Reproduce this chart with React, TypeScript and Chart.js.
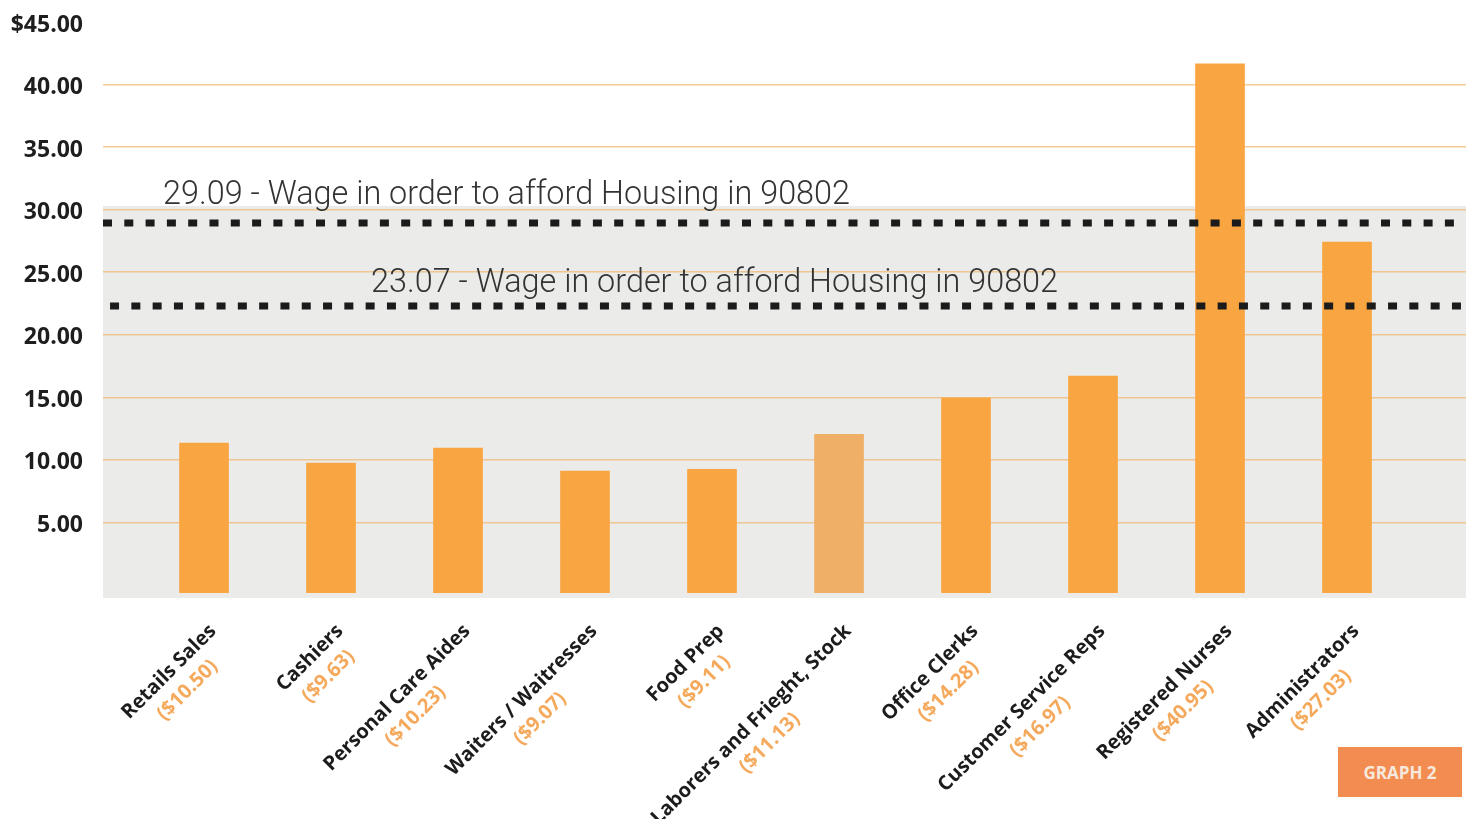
import React, { useEffect, useRef } from "react";
import { Chart, registerables } from "chart.js";

Chart.register(...registerables);

// ---- data ----
const categories = [
  "Retails Sales",
  "Cashiers",
  "Personal Care Aides",
  "Waiters / Waitresses",
  "Food Prep",
  "Laborers and Frieght, Stock",
  "Office Clerks",
  "Customer Service Reps",
  "Registered Nurses",
  "Administrators",
];
const wageLabels = [
  "($10.50)",
  "($9.63)",
  "($10.23)",
  "($9.07)",
  "($9.11)",
  "($11.13)",
  "($14.28)",
  "($16.97)",
  "($40.95)",
  "($27.03)",
];
const barValues = [11.35, 9.75, 10.95, 9.1, 9.25, 12.05, 14.95, 16.7, 41.65, 27.4];
const barColors = [
  "#f9a542", "#f9a542", "#f9a542", "#f9a542", "#f9a542",
  "#efaf66", "#f9a542", "#f9a542", "#f9a542", "#f9a542",
];
const thresholdValues = [28.94, 22.3];
const thresholdTexts = [
  "29.09 - Wage in order to afford Housing in 90802",
  "23.07 - Wage in order to afford Housing in 90802",
];
const yTickValues = [5, 10, 15, 20, 25, 30, 35, 40, 45];

// ---- layout constants (positions only) ----
const X_MIN = -0.7955;
const X_MAX = 9.937;
const Y_MIN = -0.64;
const Y_MAX = 45;
const lineStarts = [X_MIN, -0.74];
const textAnchors = [
  { x: -0.323, y: 30.46 },
  { x: 1.315, y: 23.42 },
];

const backgroundPlugin = {
  id: "bgPlugin",
  beforeDraw(chart: any) {
    const { ctx, chartArea, scales } = chart;
    const top = scales.y.getPixelForValue(30.3);
    ctx.save();
    ctx.fillStyle = "#ebebea";
    ctx.fillRect(chartArea.left, top, chartArea.right - chartArea.left, chartArea.bottom + 5 - top);
    ctx.restore();
  },
};

const annotationPlugin = {
  id: "annotationPlugin",
  afterDatasetsDraw(chart: any) {
    const { ctx, scales } = chart;
    ctx.save();
    ctx.font = '300 34px Roboto';
    ctx.fillStyle = "#333333";
    ctx.textAlign = "left";
    ctx.textBaseline = "alphabetic";
    thresholdTexts.forEach((t, i) => {
      const x = scales.x.getPixelForValue(textAnchors[i].x);
      const y = scales.y.getPixelForValue(textAnchors[i].y);
      ctx.fillText(t, x, y, 687);
    });
    ctx.restore();
  },
};

const xLabelPlugin = {
  id: "xLabelPlugin",
  afterDraw(chart: any) {
    const { ctx, scales, chartArea } = chart;
    categories.forEach((cat, i) => {
      const x = scales.x.getPixelForValue(i);
      ctx.save();
      ctx.translate(x + 9, chartArea.bottom + 35);
      ctx.rotate(-Math.PI / 4);
      ctx.font = 'bold 20px "Open Sans"';
      ctx.textAlign = "right";
      ctx.textBaseline = "middle";
      ctx.fillStyle = "#1c1c1c";
      ctx.fillText(cat, 0, 0);
      const w = ctx.measureText(cat).width;
      ctx.textAlign = "center";
      ctx.fillStyle = "#f5a95c";
      ctx.fillText(wageLabels[i], -w / 2, 26);
      ctx.restore();
    });
  },
};

export default function App() {
  const canvasRef = useRef<HTMLCanvasElement | null>(null);

  useEffect(() => {
    document.body.style.margin = "0";
    const canvas = canvasRef.current;
    if (!canvas) return;

    const lineDatasets = thresholdValues.map((v, i) => ({
      type: "line" as const,
      data: [
        { x: lineStarts[i], y: v },
        { x: X_MAX, y: v },
      ],
      borderColor: "#1b1b1b",
      borderWidth: 7,
      borderDash: [9, 12.3],
      borderCapStyle: "butt" as const,
      pointRadius: 0,
      fill: false,
      order: 0,
    }));

    const chart = new Chart(canvas, {
      type: "bar",
      data: {
        datasets: [
          {
            type: "bar",
            data: barValues.map((v, i) => ({ x: i, y: v })),
            backgroundColor: barColors,
            borderWidth: 0,
            barThickness: 49,
            base: Y_MIN,
            order: 1,
          } as any,
          ...lineDatasets,
        ],
      },
      options: {
        responsive: false,
        animation: false,
        devicePixelRatio: 1,
        layout: { padding: { top: 22, bottom: 819 - 593, left: 0, right: 0 } },
        plugins: {
          legend: { display: false },
          tooltip: { enabled: false },
        },
        scales: {
          x: {
            type: "linear",
            min: X_MIN,
            max: X_MAX,
            offset: false,
            display: false,
            grid: { offset: false },
          },
          y: {
            type: "linear",
            min: Y_MIN,
            max: Y_MAX,
            afterBuildTicks: (scale: any) => {
              scale.ticks = yTickValues.map((v) => ({ value: v }));
            },
            afterFit: (scale: any) => {
              scale.width = 103;
              scale.paddingTop = 0;
              scale.paddingBottom = 0;
            },
            border: { display: false },
            grid: {
              drawTicks: false,
              color: (ctx: any) =>
                ctx.tick && ctx.tick.value === 45 ? "rgba(0,0,0,0)" : "rgba(240,185,115,0.75)",
              lineWidth: 1.5,
            },
            ticks: {
              padding: 20,
              labelOffset: 3,
              color: "#1e1e1e",
              font: { family: '"Open Sans"', weight: "bold", size: 23 },
              callback: (value: any) =>
                Number(value) === 45 ? "$45.00" : Number(value).toFixed(2),
            },
          },
        },
      },
      plugins: [backgroundPlugin, annotationPlugin, xLabelPlugin],
    } as any);

    return () => chart.destroy();
  }, []);

  return (
    <div style={{ position: "relative", width: 1466, height: 819, background: "#ffffff" }}>
      <canvas ref={canvasRef} width={1466} height={819} style={{ width: 1466, height: 819, display: "block" }} />
      <div
        style={{
          position: "absolute",
          left: 1338,
          top: 747,
          width: 124,
          height: 50,
          background: "#f38c50",
          color: "#f7e8de",
          fontFamily: '"Open Sans", sans-serif',
          fontWeight: 700,
          fontSize: 17,
          display: "flex",
          alignItems: "center",
          justifyContent: "center",
        }}
      >
        GRAPH 2
      </div>
    </div>
  );
}
